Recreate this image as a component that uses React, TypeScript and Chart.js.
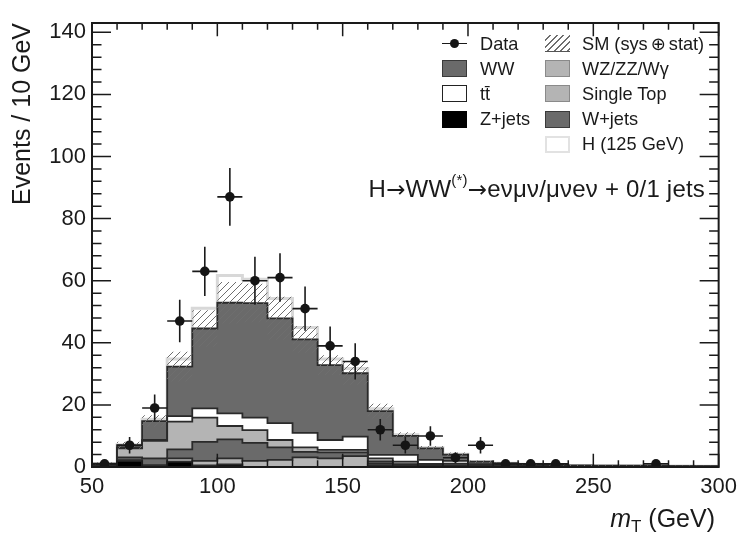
import React, { useEffect, useRef } from "react";
import { Chart, registerables } from "chart.js";

Chart.register(...registerables);

// ---- data (10 GeV bins, lower edges) ----
const binLow = [50, 60, 70, 80, 90, 100, 110, 120, 130, 140, 150, 160, 170, 180, 190, 200, 210, 220, 230, 240, 250, 260, 270, 280, 290];
const BIN_W = 10;
const X_MIN = 50;
const X_MAX = 300;
const Y_MIN = 0;
const Y_MAX = 143;
const xTickStep = 50;
const xMinorStep = 10;
const yTickStep = 20;
const yMinorStep = 4;

const dataCounts = [1, 7, 19, 47, 63, 87, 60, 61, 51, 39, 34, 12, 7, 10, 3, 7, 1, 1, 1, 0, 0, 0, 1, 0, 0];
const zJets = [0.3, 2.0, 0.2, 1.7, 0.5, 0.8, 0, 0, 0, 0, 0, 0.6, 0, 0.3, 0, 0.1, 0.1, 0, 0, 0, 0, 0, 0, 0, 0];
const singleTop = [0, 0.2, 0.4, 1.1, 1.5, 2.0, 2.0, 2.3, 3.1, 2.8, 3.5, 0.5, 0.4, 0.3, 0.3, 0.15, 0.1, 0.1, 0.08, 0.06, 0.05, 0.05, 0.04, 0.04, 0.03];
const wJets = [0.3, 0.9, 2.2, 2.9, 6.1, 6.1, 5.8, 4.0, 1.8, 1.9, 1.2, 0.7, 0.5, 0.2, 0.3, 0.1, 0.05, 0.05, 0.04, 0.03, 0.03, 0.02, 0.02, 0.02, 0.02];
const wzZzWg = [0.2, 2.9, 5.6, 8.9, 7.8, 4.3, 4.1, 2.4, 1.4, 0.8, 0.8, 1.0, 0.8, 0.2, 0.5, 0.1, 0.05, 0.05, 0.04, 0.03, 0.03, 0.03, 0.02, 0.02, 0.02];
const ttbar = [0, 0.2, 0.3, 1.8, 3.0, 4.1, 4.0, 5.4, 4.7, 3.2, 4.3, 1.1, 2.2, 1.3, 0.9, 0.5, 0.4, 0.3, 0.3, 0.2, 0.2, 0.15, 0.15, 0.1, 0.1];
const wwBkg = [0.3, 0.8, 6.1, 15.9, 25.7, 35.6, 36.9, 33.8, 30.1, 24.1, 20.4, 14.1, 6.1, 3.7, 2.0, 0.75, 0.5, 0.4, 0.24, 0.18, 0.14, 0.15, 0.12, 0.12, 0.08];
const higgs = [0, 0.2, 0.6, 2.5, 6.5, 8.8, 7.7, 6.4, 3.8, 2.0, 1.5, 0.8, 0.4, 0.2, 0.1, 0, 0, 0, 0, 0, 0, 0, 0, 0, 0];
const smUnc = [0.4, 1.1, 1.9, 4.8, 5.9, 6.7, 6.2, 6.9, 4.3, 3.2, 3.7, 2.4, 1.2, 0.8, 0.7, 0.4, 0.3, 0.25, 0.2, 0.15, 0.15, 0.15, 0.15, 0.15, 0.15];

const FONT = '"Liberation Sans", Arial, Helvetica, sans-serif';
const SYM = '"DejaVu Sans", sans-serif';
const TEXT = "#1a1a1a";
const DARK = "#6a6a6a";
const LIGHT = "#b4b4b4";
const EDGE = "#2a2a2a";

// stacking order bottom -> top
const layers = [
  { label: "Z+jets", values: zJets, fill: "#000000", edge: EDGE, width: 1.8 },
  { label: "Single Top", values: singleTop, fill: LIGHT, edge: EDGE, width: 1.8 },
  { label: "W+jets", values: wJets, fill: DARK, edge: EDGE, width: 1.8 },
  { label: "WZ/ZZ/Wγ", values: wzZzWg, fill: LIGHT, edge: EDGE, width: 1.8 },
  { label: "tt̄", values: ttbar, fill: "#ffffff", edge: EDGE, width: 1.8 },
  { label: "WW", values: wwBkg, fill: DARK, edge: EDGE, width: 1.8 },
  { label: "H (125 GeV)", values: higgs, fill: "#ffffff", edge: "#d8d8d8", width: 3 },
];

function stepPoints(vals: number[]) {
  const pts = binLow.map((x, i) => ({ x, y: vals[i] }));
  pts.push({ x: binLow[binLow.length - 1] + BIN_W, y: vals[vals.length - 1] });
  return pts;
}

function makeHatch(ctx: CanvasRenderingContext2D) {
  const s = 7;
  const pc = document.createElement("canvas");
  pc.width = s;
  pc.height = s;
  const g = pc.getContext("2d")!;
  g.strokeStyle = "#6e6e6e";
  g.lineWidth = 1;
  g.beginPath();
  g.moveTo(0, s);
  g.lineTo(s, 0);
  g.moveTo(-s, s);
  g.lineTo(s, -s);
  g.moveTo(0, 2 * s);
  g.lineTo(2 * s, 0);
  g.stroke();
  return ctx.createPattern(pc, "repeat")!;
}

const rootStyle = {
  id: "rootStyle",
  beforeDatasetDraw(chart: any, args: any) {
    const ds = chart.data.datasets[args.index];
    if (ds.label !== "Data") return;
    const { ctx, scales } = chart;
    const x = scales.x;
    const y = scales.y;
    ctx.save();
    ctx.strokeStyle = TEXT;
    ctx.lineWidth = 1.6;
    binLow.forEach((lo, i) => {
      const n = dataCounts[i];
      if (n <= 0) return;
      const e = Math.sqrt(n);
      const xc = x.getPixelForValue(lo + BIN_W / 2);
      const yc = y.getPixelForValue(n);
      ctx.beginPath();
      ctx.moveTo(xc, y.getPixelForValue(Math.max(0, n - e)));
      ctx.lineTo(xc, y.getPixelForValue(n + e));
      ctx.moveTo(x.getPixelForValue(lo), yc);
      ctx.lineTo(x.getPixelForValue(lo + BIN_W), yc);
      ctx.stroke();
    });
    ctx.restore();
  },
  afterDraw(chart: any) {
    const { ctx, chartArea: a, scales } = chart;
    const x = scales.x;
    const y = scales.y;
    ctx.save();
    ctx.strokeStyle = TEXT;
    ctx.lineWidth = 1.5;
    ctx.beginPath();
    for (let v = Y_MIN; v <= Y_MAX; v += yMinorStep) {
      const py = y.getPixelForValue(v);
      const len = v % yTickStep === 0 ? 19 : 9.5;
      ctx.moveTo(a.left, py);
      ctx.lineTo(a.left + len, py);
      ctx.moveTo(a.right, py);
      ctx.lineTo(a.right - len, py);
    }
    for (let v = X_MIN; v <= X_MAX; v += xMinorStep) {
      const px = x.getPixelForValue(v);
      const len = v % xTickStep === 0 ? 13.3 : 6.7;
      ctx.moveTo(px, a.bottom);
      ctx.lineTo(px, a.bottom - len);
      ctx.moveTo(px, a.top);
      ctx.lineTo(px, a.top + len);
    }
    ctx.stroke();
    ctx.lineWidth = 2;
    ctx.strokeRect(a.left, a.top, a.right - a.left, a.bottom - a.top);
    ctx.restore();
  },
};

function LegendBox({ x, y, style }: { x: number; y: number; style: React.CSSProperties }) {
  return (
    <div
      style={{
        position: "absolute",
        left: x,
        top: y - 8.5,
        width: 25,
        height: 17,
        boxSizing: "border-box",
        ...style,
      }}
    />
  );
}

function LegendText({ x, y, children }: { x: number; y: number; children: React.ReactNode }) {
  return (
    <div
      style={{
        position: "absolute",
        left: x,
        top: y - 11,
        height: 22,
        lineHeight: "22px",
        fontSize: 18.2,
        whiteSpace: "nowrap",
      }}
    >
      {children}
    </div>
  );
}

export default function App() {
  const ref = useRef<HTMLCanvasElement | null>(null);

  useEffect(() => {
    const canvas = ref.current;
    if (!canvas) return;
    const ctx = canvas.getContext("2d")!;
    const hatch = makeHatch(ctx);

    // cumulative stacks
    const cum: number[][] = [];
    let run = binLow.map(() => 0);
    layers.forEach((l) => {
      run = run.map((v, i) => v + l.values[i]);
      cum.push(run.slice());
    });
    const smTotal = cum[layers.length - 2];
    const bandHi = smTotal.map((v, i) => v + smUnc[i]);
    const bandLo = smTotal.map((v, i) => Math.max(0, v - smUnc[i]));

    const datasets: any[] = [];
    datasets.push({
      label: "Data",
      data: binLow
        .map((lo, i) => ({ x: lo + BIN_W / 2, y: dataCounts[i] }))
        .filter((p) => p.y > 0),
      showLine: false,
      pointRadius: 4.8,
      pointHoverRadius: 4.8,
      pointBackgroundColor: "#151515",
      pointBorderWidth: 0,
      order: 0,
    });
    datasets.push({
      label: "SM (sys ⊕ stat)",
      data: stepPoints(bandHi),
      stepped: true,
      borderColor: "rgba(0,0,0,0)",
      borderWidth: 1,
      backgroundColor: hatch,
      fill: "+1",
      pointRadius: 0,
      order: 1,
    });
    datasets.push({
      label: "band-low",
      data: stepPoints(bandLo),
      stepped: true,
      borderColor: "rgba(0,0,0,0)",
      borderWidth: 1,
      fill: false,
      pointRadius: 0,
      order: 1,
    });
    layers.forEach((l, k) => {
      datasets.push({
        label: l.label,
        data: stepPoints(cum[k]),
        stepped: true,
        borderColor: l.edge,
        borderWidth: l.width,
        backgroundColor: l.fill,
        fill: "origin",
        pointRadius: 0,
        order: 2 + k,
      });
    });

    const chart = new Chart(canvas, {
      type: "line",
      data: { datasets },
      plugins: [rootStyle],
      options: {
        responsive: false,
        animation: false,
        events: [],
        layout: { padding: { left: 0, right: 20, top: 23, bottom: 0 } },
        plugins: {
          legend: { display: false },
          tooltip: { enabled: false },
          title: { display: false },
        },
        scales: {
          x: {
            type: "linear",
            min: X_MIN,
            max: X_MAX,
            afterFit: (s: any) => {
              s.height = 68;
            },
            grid: { display: false, drawTicks: false },
            border: { display: false },
            ticks: {
              stepSize: xTickStep,
              autoSkip: false,
              maxRotation: 0,
              includeBounds: false,
              padding: 7,
              color: TEXT,
              font: { family: FONT, size: 22 },
            },
          },
          y: {
            type: "linear",
            min: Y_MIN,
            max: Y_MAX,
            afterFit: (s: any) => {
              s.width = 92;
            },
            grid: { display: false, drawTicks: false },
            border: { display: false },
            ticks: {
              stepSize: yTickStep,
              includeBounds: false,
              padding: 6,
              color: TEXT,
              font: { family: FONT, size: 22 },
            },
            title: {
              display: true,
              text: "Events / 10 GeV",
              align: "end",
              color: TEXT,
              font: { family: FONT, size: 25 },
              padding: { top: 8, bottom: 0 },
            },
          },
        },
      } as any,
    });
    return () => chart.destroy();
  }, []);

  const rowY = [43.5, 68.7, 93.9, 119.1, 144.3];
  const c1Box = 442;
  const c1Txt = 480;
  const c2Box = 545;
  const c2Txt = 582;

  return (
    <div
      style={{
        position: "absolute",
        left: 0,
        top: 0,
        width: 744,
        height: 535,
        background: "#ffffff",
        fontFamily: FONT,
        color: TEXT,
        overflow: "hidden",
      }}
    >
      <canvas ref={ref} width={744} height={535} style={{ position: "absolute", left: 0, top: 0 }} />

      {/* legend column 1 */}
      <div style={{ position: "absolute", left: c1Box, top: rowY[0] - 0.8, width: 25, height: 1.6, background: TEXT }} />
      <div
        style={{
          position: "absolute",
          left: c1Box + 12.5 - 4.8,
          top: rowY[0] - 4.8,
          width: 9.6,
          height: 9.6,
          borderRadius: "50%",
          background: "#151515",
        }}
      />
      <LegendText x={c1Txt} y={rowY[0]}>Data</LegendText>
      <LegendBox x={c1Box} y={rowY[1]} style={{ background: DARK, border: "1px solid #3a3a3a" }} />
      <LegendText x={c1Txt} y={rowY[1]}>WW</LegendText>
      <LegendBox x={c1Box} y={rowY[2]} style={{ background: "#fff", border: "1.5px solid #222" }} />
      <LegendText x={c1Txt} y={rowY[2]}>tt̄</LegendText>
      <LegendBox x={c1Box} y={rowY[3]} style={{ background: "#000" }} />
      <LegendText x={c1Txt} y={rowY[3]}>Z+jets</LegendText>

      {/* legend column 2 */}
      <LegendBox
        x={c2Box}
        y={rowY[0]}
        style={{
          background: "repeating-linear-gradient(135deg, transparent 0px, transparent 3.5px, #6e6e6e 3.5px, #6e6e6e 4.6px)",
          borderBottom: "1.5px solid #555",
        }}
      />
      <LegendText x={c2Txt} y={rowY[0]}>
        SM (sys<span style={{ fontFamily: SYM, fontSize: 18, margin: "0 3px" }}>⊕</span>stat)
      </LegendText>
      <LegendBox x={c2Box} y={rowY[1]} style={{ background: LIGHT, border: "1px solid #8a8a8a" }} />
      <LegendText x={c2Txt} y={rowY[1]}>WZ/ZZ/Wγ</LegendText>
      <LegendBox x={c2Box} y={rowY[2]} style={{ background: LIGHT, border: "1px solid #8a8a8a" }} />
      <LegendText x={c2Txt} y={rowY[2]}>Single Top</LegendText>
      <LegendBox x={c2Box} y={rowY[3]} style={{ background: DARK, border: "1px solid #3a3a3a" }} />
      <LegendText x={c2Txt} y={rowY[3]}>W+jets</LegendText>
      <LegendBox x={c2Box} y={rowY[4]} style={{ background: "#fff", border: "2.5px solid #e2e2e2" }} />
      <LegendText x={c2Txt} y={rowY[4]}>H (125 GeV)</LegendText>

      {/* channel annotation */}
      <div
        style={{
          position: "absolute",
          right: 39,
          top: 176.5,
          fontSize: 24,
          lineHeight: "24px",
          letterSpacing: 0.2,
          whiteSpace: "nowrap",
        }}
      >
        H<span style={{ fontFamily: SYM, fontSize: 23 }}>→</span>WW
        <span style={{ fontSize: 15, position: "relative", top: -12 }}>(*)</span>
        <span style={{ fontFamily: SYM, fontSize: 23 }}>→</span>eνμν/μνeν + 0/1 jets
      </div>

      {/* x-axis title */}
      <div
        style={{
          position: "absolute",
          right: 29,
          top: 506,
          fontSize: 25,
          lineHeight: "25px",
          whiteSpace: "nowrap",
        }}
      >
        <i>m</i>
        <span style={{ fontSize: 17, position: "relative", top: 5 }}>T</span> (GeV)
      </div>
    </div>
  );
}
